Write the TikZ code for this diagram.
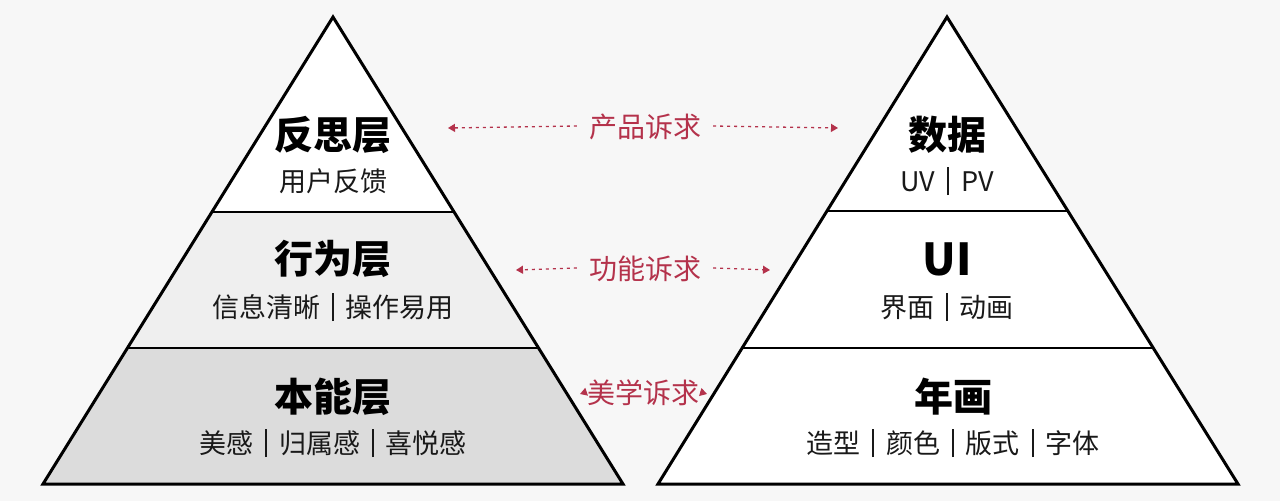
\documentclass[tikz,border=0pt]{standalone}
\usepackage{fontspec}
\setmainfont{Noto Sans CJK SC}
\usetikzlibrary{arrows.meta}
\definecolor{bgc}{HTML}{F7F7F7}
\definecolor{midc}{HTML}{EFEFEF}
\definecolor{lowc}{HTML}{DCDCDC}
\definecolor{redc}{RGB}{180,50,75}
\newcommand{\sepbar}{\hspace{0.45em}\rule[-0.14em]{1.6pt}{1.05em}\hspace{0.45em}}
\tikzset{
  outline/.style={draw=black,line width=3pt,line join=miter},
  divider/.style={draw=black,line width=2pt},
  title/.style={font=\fontsize{39}{41}\selectfont\bfseries,text=black,inner sep=0pt},
  sub/.style={font=\fontsize{27}{29}\selectfont,text=black!90,inner sep=0pt},
  req/.style={font=\fontsize{28}{30}\selectfont,text=redc,inner sep=0pt},
  reqarrow/.style={draw=redc,line width=1.3pt,dash pattern=on 3pt off 4pt,-{Triangle[length=7pt,width=8pt]}},
  tip/.style={draw=redc,line width=1.3pt,-{Triangle[length=7pt,width=8pt]}}
}
\begin{document}
\begin{tikzpicture}[x=1pt,y=-1pt]
\fill[bgc] (0,0) rectangle (1280,501);
\useasboundingbox (0,0) rectangle (1280,501);
% left pyramid
\fill[white] (333,17) -- (212,212) -- (454,212) -- cycle;
\fill[midc] (212,212) -- (454,212) -- (538,348) -- (128,348) -- cycle;
\fill[lowc] (128,348) -- (538,348) -- (623,484) -- (43,484) -- cycle;
\draw[divider] (212,212) -- (454,212);
\draw[divider] (128,348) -- (538,348);
\draw[outline] (333,17) -- (623,484) -- (43,484) -- cycle;
% right pyramid
\fill[white] (947,17) -- (1238,484) -- (658,484) -- cycle;
\draw[divider] (826.5,211) -- (1067.5,211);
\draw[divider] (741.5,348) -- (1152.5,348);
\draw[outline] (947,17) -- (1238,484) -- (658,484) -- cycle;
% left texts
\node[title] (l1) at (333,135) {反思层};
\node[sub] (l1s) at (333,181) {用户反馈};
\node[title] (l2) at (333,259) {行为层};
\node[sub] (l2s) at (333,307) {信息清晰\sepbar 操作易用};
\node[title] (l3) at (333,397) {本能层};
\node[sub] (l3s) at (333,443) {美感\sepbar 归属感\sepbar 喜悦感};
% right texts
\node[title] (r1) at (947,135) {数据};
\node[sub] (r1s) at (947,181) {UV\sepbar PV};
\node[title,font=\fontsize{44}{46}\selectfont\bfseries] (r2) at (947,259) {UI};
\node[sub] (r2s) at (947,307) {界面\sepbar 动画};
\node[title] (r3) at (953,397) {年画};
\node[sub] (r3s) at (953,443) {造型\sepbar 颜色\sepbar 版式\sepbar 字体};
% requirements
\node[req] (q1) at (645,127) {产品诉求};
\node[req] (q2) at (645,269) {功能诉求};
\node[req] (q3) at (643,393) {美学诉求};
\coordinate (q1l) at (448,128);
\coordinate (q1r) at (838,128);
\coordinate (q2l) at (516,270);
\coordinate (q2r) at (770,270);
\coordinate (q3l) at (580,394);
\coordinate (q3r) at (707,394);
\draw[reqarrow] ([xshift=-12pt,yshift=1pt]q1.west) -- (q1l);
\draw[reqarrow] ([xshift=12pt,yshift=1pt]q1.east) -- (q1r);
\draw[reqarrow] ([xshift=-12pt,yshift=1pt]q2.west) -- (q2l);
\draw[reqarrow] ([xshift=12pt,yshift=1pt]q2.east) -- (q2r);
\draw[tip] ([xshift=-1pt,yshift=1pt]q3.west) -- (q3l);
\draw[tip] ([xshift=1pt,yshift=1pt]q3.east) -- (q3r);
\end{tikzpicture}
\end{document}
